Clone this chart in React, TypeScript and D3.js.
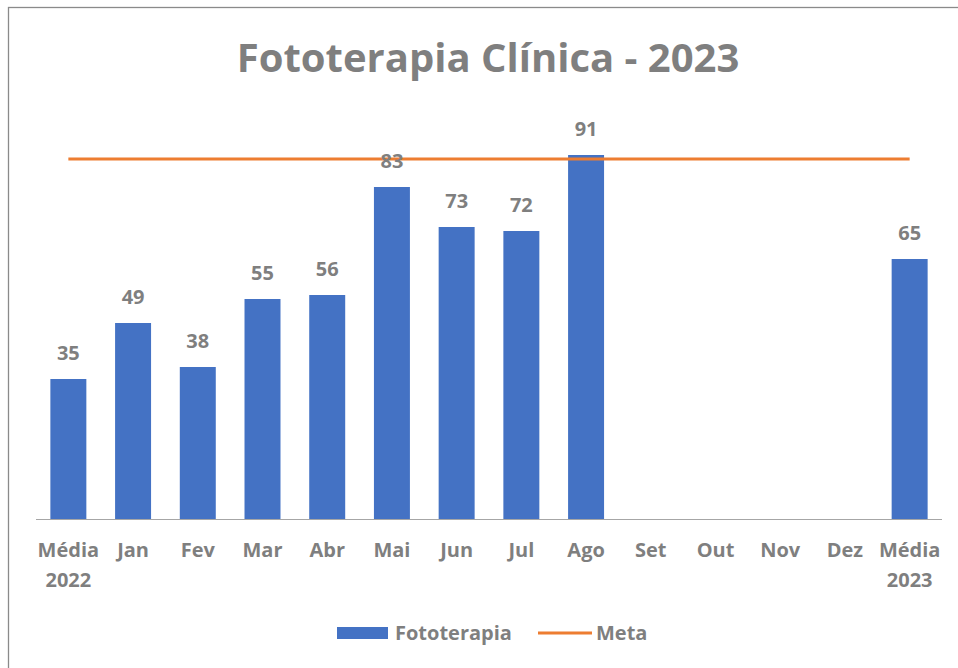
import * as d3 from 'd3';

const categories = ['Média\n2022', 'Jan', 'Fev', 'Mar', 'Abr', 'Mai', 'Jun', 'Jul', 'Ago', 'Set', 'Out', 'Nov', 'Dez', 'Média\n2023'];
const fototerapia: (number | null)[] = [35, 49, 38, 55, 56, 83, 73, 72, 91, null, null, null, null, 65];
const meta = [90, 90, 90, 90, 90, 90, 90, 90, 90, 90, 90, 90, 90, 90];

const W = 958;
const H = 668;
const grey = '#7f7f7f';
const blue = '#4472C4';
const orange = '#ED7D31';
const font = '"Open Sans", sans-serif';

const App = () => {
  const x = d3.scaleBand<number>()
    .domain(categories.map((_, i) => i))
    .range([36, 942])
    .paddingInner(0.444)
    .paddingOuter(0.222);

  const y = d3.scaleLinear().domain([0, 100]).range([519, 119]);

  const cx = (i: number) => (x(i) ?? 0) + x.bandwidth() / 2;

  const metaLine = d3.line<number>()
    .x((_, i) => cx(i))
    .y(d => y(d));

  return (
    <svg width={W} height={H} style={{ position: 'absolute', left: 0, top: 0 }} fontFamily={font}>
      <rect x={0} y={0} width={W} height={H} fill="#fff" />
      <rect x={8.5} y={7.5} width={W + 20} height={H + 20} fill="none" stroke="#8a8a8a" strokeWidth={1.3} />

      <text x={488} y={72} textAnchor="middle" fontSize={40} fontWeight={700} fill={grey}>
        Fototerapia Clínica - 2023
      </text>

      {fototerapia.map((v, i) =>
        v == null ? null : (
          <rect key={i} x={x(i)} y={y(v)} width={x.bandwidth()} height={y(0) - y(v)} fill={blue} />
        )
      )}

      <line x1={36} x2={942} y1={y(0) + 0.5} y2={y(0) + 0.5} stroke="#a6a6a6" strokeWidth={1.2} />

      <path d={metaLine(meta) ?? ''} fill="none" stroke={orange} strokeWidth={3} />

      {fototerapia.map((v, i) =>
        v == null ? null : (
          <text key={i} x={cx(i)} y={y(v) - 19} textAnchor="middle" fontSize={20} fontWeight={700} fill={grey}>
            {v}
          </text>
        )
      )}

      {categories.map((c, i) => (
        <text key={i} x={cx(i)} y={557} textAnchor="middle" fontSize={20} fontWeight={700} fill={grey}>
          {c.split('\n').map((line, j) => (
            <tspan key={j} x={cx(i)} dy={j === 0 ? 0 : 30}>{line}</tspan>
          ))}
        </text>
      ))}

      <g>
        <rect x={337} y={627} width={51} height={12} fill={blue} />
        <text x={395} y={640} fontSize={20} fontWeight={700} fill={grey}>Fototerapia</text>
        <line x1={538} x2={592} y1={633} y2={633} stroke={orange} strokeWidth={3} />
        <text x={596} y={640} fontSize={20} fontWeight={700} fill={grey}>Meta</text>
      </g>
    </svg>
  );
};

export default App;
